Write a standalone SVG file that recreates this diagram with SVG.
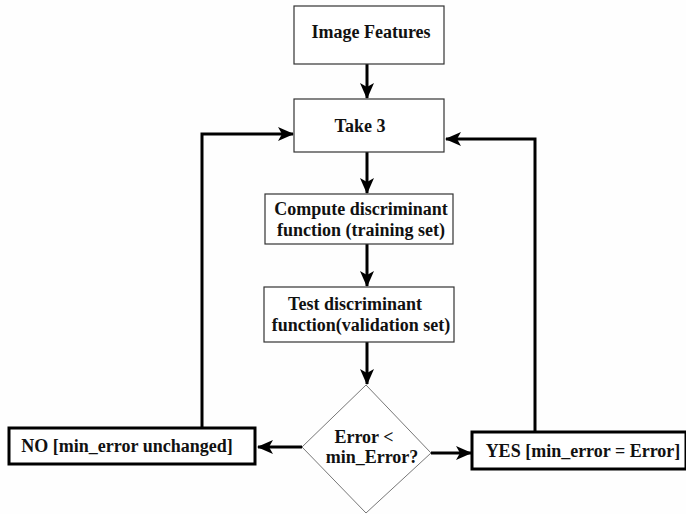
<svg xmlns="http://www.w3.org/2000/svg" width="686" height="514" viewBox="0 0 686 514">
<style>
.box{fill:#fff;stroke:#333;stroke-width:1.2}
.tbox{fill:#fff;stroke:#000;stroke-width:3}
.dia{fill:#fff;stroke:#777;stroke-width:1}
.t{font-family:"Liberation Serif","Times New Roman",serif;font-weight:bold;font-size:18px;fill:#111;text-anchor:middle}
.c{fill:none;stroke:#000;stroke-width:3}
</style>
<defs>
<marker id="ah" markerUnits="userSpaceOnUse" markerWidth="16" markerHeight="16" viewBox="0 0 16 16" refX="15" refY="8" orient="auto">
<path d="M0,1 L16,8 L0,15 L4,8 z" fill="#000"/>
</marker>
</defs>
<rect width="686" height="514" fill="#fefefe"/>
<g id="connectors">
<line class="c" x1="367" y1="64" x2="367" y2="98" marker-end="url(#ah)"/>
<line class="c" x1="367" y1="152" x2="367" y2="193" marker-end="url(#ah)"/>
<line class="c" x1="367" y1="244" x2="367" y2="286" marker-end="url(#ah)"/>
<line class="c" x1="367" y1="342" x2="367" y2="384" marker-end="url(#ah)"/>
<line class="c" x1="302" y1="447" x2="258" y2="447" marker-end="url(#ah)"/>
<line class="c" x1="431" y1="453" x2="471" y2="453" marker-end="url(#ah)"/>
<polyline class="c" points="202,428 202,134 293,134" marker-end="url(#ah)"/>
<polyline class="c" points="535,432 535,139 446,139" marker-end="url(#ah)"/>
</g>
<g id="image-features">
<rect class="box" x="294" y="6" width="150" height="58"/>
<text class="t" x="371" y="38">Image Features</text>
</g>
<g id="take3">
<rect class="box" x="294" y="99" width="150" height="53"/>
<text class="t" x="360" y="132">Take 3</text>
</g>
<g id="compute">
<rect class="box" x="265" y="194" width="188" height="50"/>
<text class="t" x="361" y="215">Compute discriminant</text>
<text class="t" x="361" y="236">function (training set)</text>
</g>
<g id="test">
<rect class="box" x="264" y="287" width="190" height="55"/>
<text class="t" x="355" y="310">Test discriminant</text>
<text class="t" x="361" y="331">function(validation set)</text>
</g>
<g id="decision">
<polygon class="dia" points="366,385 431,453 366,513 302,447"/>
<text class="t" x="364" y="443">Error &lt;</text>
<text class="t" x="372" y="463">min_Error?</text>
</g>
<g id="no">
<rect class="tbox" x="9" y="428" width="246" height="36"/>
<text class="t" x="127" y="452">NO [min_error unchanged]</text>
</g>
<g id="yes">
<rect class="tbox" x="472" y="432" width="214" height="37"/>
<text class="t" x="583" y="457">YES [min_error = Error]</text>
</g>
</svg>
